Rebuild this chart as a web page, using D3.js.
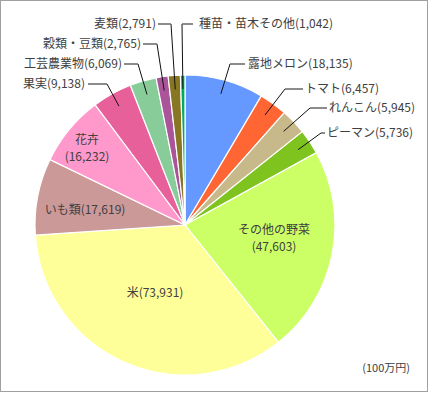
<!DOCTYPE html>
<html>
<head>
<meta charset="utf-8">
<script src="https://cdn.jsdelivr.net/npm/d3@7"></script>
<style>
  body { margin: 0; background: #fff; }
  text { font-family: "Noto Sans CJK JP", sans-serif; font-size: 12px; fill: #404040; }
</style>
</head>
<body>
<svg class="piechart" width="429" height="393"></svg>
<script>
// categories and values (100万円), clockwise from 12 o'clock
var categories = ['露地メロン', 'トマト', 'れんこん', 'ピーマン', 'その他の野菜', '米', 'いも類', '花卉', '果実', '工芸農業物', '穀類・豆類', '麦類', '種苗・苗木その他']
var values = [18135, 6457, 5945, 5736, 47603, 73931, 17619, 16232, 9138, 6069, 2765, 2791, 1042]
var colors = ['#6699ff', '#ff6633', '#c8b98a', '#7fc31f', '#ccff66', '#ffff99', '#cc9999', '#ff99cc', '#e8609a', '#88cc99', '#aa5599', '#887722', '#00aa66']

var svg = d3.select('.piechart')
var width = +svg.attr('width'),
  height = +svg.attr('height')

// frame
svg.append('rect')
  .attr('x', 0.5).attr('y', 0.5)
  .attr('width', width - 2).attr('height', height - 2)
  .attr('fill', '#fff')
  .attr('stroke', '#a0a0a0')

var cx = 185, cy = 225, radius = 150

var data = categories.map(function(c, i) {
  return { name: c, value: values[i], color: colors[i] }
})

var pie = d3.pie().sort(null).value(function(d) { return d.value })
var arcs = pie(data)

var path = d3.arc().innerRadius(0).outerRadius(radius)
var anchorArc = d3.arc().innerRadius(136).outerRadius(136)

var g = svg.append('g').attr('transform', 'translate(' + cx + ',' + cy + ')')

g.selectAll('path')
  .data(arcs)
  .enter()
  .append('path')
  .attr('d', path)
  .attr('fill', function(d) { return d.data.color })
  .attr('stroke', '#fff')
  .attr('stroke-width', 1.2)

function fmt(v) { return '(' + d3.format(',')(v) + ')' }

// outside labels: elbow point, text position, alignment (layout only)
var outside = {
  '露地メロン': { ex: 230, ey: 64, hx: 245, tx: 248, anchor: 'start' },
  'トマト': { ex: 285, ey: 89, hx: 303, tx: 305, anchor: 'start' },
  'れんこん': { ex: 310, ey: 108, hx: 327, tx: 329, anchor: 'start' },
  'ピーマン': { ex: 321, ey: 133, hx: 325, tx: 327, anchor: 'start' },
  '果実': { ex: 107, ey: 84, hx: 88, tx: 85, anchor: 'end' },
  '工芸農業物': { ex: 138, ey: 64, hx: 124, tx: 122, anchor: 'end' },
  '穀類・豆類': { ex: 157, ey: 44, hx: 143, tx: 141, anchor: 'end' },
  '麦類': { ex: 171, ey: 24, hx: 158, tx: 156, anchor: 'end' },
  '種苗・苗木その他': { ex: 182, ey: 24, hx: 193, tx: 199, anchor: 'start' }
}

// inside labels (relative to centre)
var inside = {
  'その他の野菜': { x: 89, y: 9, lines: 2 },
  '米': { x: -30, y: 72, lines: 1 },
  'いも類': { x: -100, y: -11, lines: 1 },
  '花卉': { x: -98, y: -81, lines: 2 }
}

arcs.forEach(function(d) {
  var name = d.data.name
  var o = outside[name]
  if (o) {
    var a = anchorArc.centroid(d)
    var ax = a[0] + cx, ay = a[1] + cy
    svg.append('line')
      .attr('x1', ax).attr('y1', ay)
      .attr('x2', o.ex).attr('y2', o.ey)
      .attr('stroke', '#111').attr('stroke-width', 1)
    svg.append('line')
      .attr('x1', o.ex).attr('y1', o.ey)
      .attr('x2', o.hx).attr('y2', o.ey)
      .attr('stroke', '#666').attr('stroke-width', 1.5)
    svg.append('text')
      .attr('x', o.tx).attr('y', o.ey + 4)
      .attr('text-anchor', o.anchor)
      .text(name + fmt(d.data.value))
  }
  var inn = inside[name]
  if (inn) {
    if (inn.lines == 2) {
      g.append('text')
        .attr('text-anchor', 'middle')
        .attr('x', inn.x).attr('y', inn.y)
        .text(name)
      g.append('text')
        .attr('text-anchor', 'middle')
        .attr('x', inn.x).attr('y', inn.y + 17)
        .text(fmt(d.data.value))
    } else {
      g.append('text')
        .attr('text-anchor', 'middle')
        .attr('x', inn.x).attr('y', inn.y)
        .text(name + fmt(d.data.value))
    }
  }
})

svg.append('text')
  .attr('x', 410).attr('y', 372)
  .attr('text-anchor', 'end')
  .style('font-size', '11px')
  .text('(100万円)')
</script>
</body>
</html>
